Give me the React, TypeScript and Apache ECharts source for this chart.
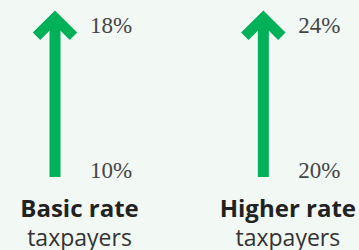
import React, { useEffect, useRef } from "react";
import * as echarts from "echarts";

const categories = ["Basic rate", "Higher rate"];
const categorySub = ["taxpayers", "taxpayers"];
const fromRates = [10, 20];
const toRates = [18, 24];

const GREEN = "#00b159";

export default function App() {
  const ref = useRef<HTMLDivElement>(null);
  useEffect(() => {
    const chart = echarts.init(ref.current!, null, { renderer: "svg" });
    const data = categories.map((c, i) => [i, 0, 1, fromRates[i], toRates[i]]);
    chart.setOption({
      animation: false,
      backgroundColor: "#f2f8f4",
      grid: { left: 55, right: 87.5, top: 10, bottom: 73 },
      xAxis: {
        type: "category",
        data: categories,
        boundaryGap: false,
        axisLine: { show: false },
        axisTick: { show: false },
        splitLine: { show: false },
        axisLabel: {
          interval: 0,
          margin: 16,
          padding: [0, 0, 0, 49],
          formatter: (v: string) => {
            const i = categories.indexOf(v);
            return `{b|${v}}\n{n|${categorySub[i]}}`;
          },
          rich: {
            b: {
              fontFamily: "Open Sans",
              fontWeight: "bold",
              fontSize: 24,
              lineHeight: 29,
              color: "#222222",
              align: "center",
            },
            n: {
              fontFamily: "Open Sans",
              fontSize: 23,
              lineHeight: 29,
              color: "#333333",
              align: "center",
            },
          },
        },
      },
      yAxis: { type: "value", min: 0, max: 1, show: false },
      series: [
        {
          type: "custom",
          data,
          clip: false,
          renderItem: (params: any, api: any) => {
            const i = api.value(0);
            const bottom = api.coord([i, api.value(1)]);
            const top = api.coord([i, api.value(2)]);
            const x = bottom[0];
            const yB = bottom[1];
            const yT = top[1];
            const vy = yT + 7.8;
            const pct = (v: number, y: number) => ({
              type: "text",
              style: {
                x: x + 35,
                y,
                text: `${v}%`,
                fontFamily: "Liberation Serif",
                fontSize: 23,
                fill: "#454545",
                align: "left",
                verticalAlign: "middle",
              },
            });
            return {
              type: "group",
              children: [
                {
                  type: "line",
                  shape: { x1: x, y1: yB, x2: x, y2: vy },
                  style: { stroke: GREEN, lineWidth: 11, lineCap: "butt" },
                },
                {
                  type: "polyline",
                  shape: {
                    points: [
                      [x - 18.5, vy + 18.5],
                      [x, vy],
                      [x + 18.5, vy + 18.5],
                    ],
                  },
                  style: {
                    stroke: GREEN,
                    fill: "none",
                    lineWidth: 10.5,
                    lineJoin: "miter",
                    lineCap: "butt",
                  },
                },
                pct(api.value(4), yT + 15),
                pct(api.value(3), yB - 7),
              ],
            };
          },
        },
      ],
    });
    return () => chart.dispose();
  }, []);
  return <div ref={ref} style={{ width: 359, height: 250, position: "absolute", left: 0, top: 0 }} />;
}
